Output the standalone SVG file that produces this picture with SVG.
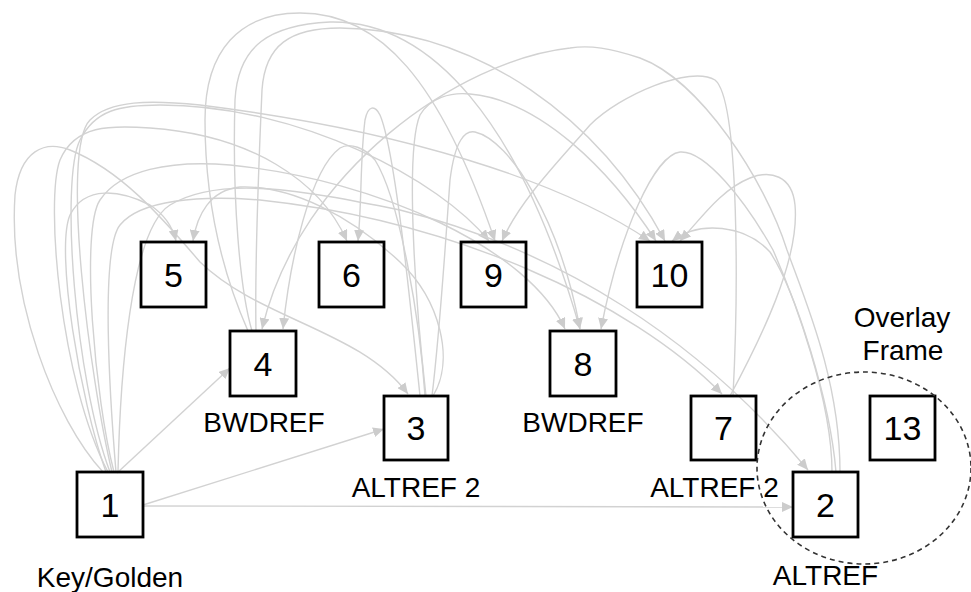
<svg xmlns="http://www.w3.org/2000/svg" width="971" height="592" viewBox="0 0 971 592">
<style>
.e{fill:none;stroke:#d2d2d2;stroke-width:1.4}
.b{fill:none;stroke:#000;stroke-width:2.8}
.n{font-family:"Liberation Sans",Arial,sans-serif;font-size:34px;text-anchor:middle;fill:#000}
.l{font-family:"Liberation Sans",Arial,sans-serif;font-size:28px;text-anchor:middle;fill:#000}
</style>
<defs>
<marker id="ah" markerWidth="11" markerHeight="10" refX="11" refY="5" orient="auto" markerUnits="userSpaceOnUse">
<path d="M0,0 L11,5 L0,10 z" fill="#cccccc"/>
</marker>
</defs>
<rect width="971" height="592" fill="#fff"/>
<g id="connectors">
<path class="e" marker-end="url(#ah)" d="M103,472 C55,420 8,300 15,195 C20,150 45,140 70,150 C120,170 160,215 200,262 C260,320 360,330 408,394"/>
<path class="e" marker-end="url(#ah)" d="M106,472 C80,400 55,250 70,215 C85,185 120,190 150,205 C165,215 173,228 176,241"/>
<path class="e" marker-end="url(#ah)" d="M108,472 C60,380 45,200 60,160 C75,125 110,125 150,128 C250,135 320,180 347,241"/>
<path class="e" marker-end="url(#ah)" d="M110,472 C75,380 60,180 80,140 C95,110 120,105 160,105 C300,105 440,180 489,241"/>
<path class="e" marker-end="url(#ah)" d="M112,472 C90,380 60,150 90,120 C110,100 150,100 200,105 C400,130 560,180 650,241"/>
<path class="e" marker-end="url(#ah)" d="M114,472 C95,400 80,230 100,200 C120,170 170,160 230,165 C380,180 530,250 565,329"/>
<path class="e" marker-end="url(#ah)" d="M116,472 C110,400 100,250 120,225 C140,200 200,195 260,200 C450,220 630,300 722,394"/>
<path class="e" marker-end="url(#ah)" d="M118,472 C120,380 130,230 170,205 C220,175 300,190 400,210 C560,250 700,340 808,470"/>
<path class="e" marker-end="url(#ah)" d="M117,473 L230,368"/>
<path class="e" marker-end="url(#ah)" d="M143,505 L384,429"/>
<path class="e" marker-end="url(#ah)" d="M143,506 L793,507"/>
<path class="e" marker-end="url(#ah)" d="M248,331 C230,290 205,220 205,120 C205,50 240,13 300,13 C380,13 440,80 495,241"/>
<path class="e" marker-end="url(#ah)" d="M252,331 C240,290 232,200 235,100 C238,45 270,25 330,22 C430,20 520,120 580,329"/>
<path class="e" marker-end="url(#ah)" d="M256,331 C255,280 258,180 262,90 C265,45 290,28 340,28 C480,30 600,120 665,241"/>
<path class="e" marker-end="url(#ah)" d="M433,396 C455,360 440,300 400,262 C350,215 290,185 240,187 C210,190 197,215 193,241"/>
<path class="e" marker-end="url(#ah)" d="M420,396 C410,300 395,150 380,115 C375,105 368,105 365,120 C360,160 362,200 358,241"/>
<path class="e" marker-end="url(#ah)" d="M425,396 C420,320 400,200 375,160 C365,148 350,142 340,148 C310,170 290,260 283,329"/>
<path class="e" marker-end="url(#ah)" d="M432,396 C440,330 445,250 450,180 C455,140 465,130 475,132 C510,140 560,220 580,329"/>
<path class="e" marker-end="url(#ah)" d="M426,396 C415,300 405,150 420,115 C430,98 450,92 470,94 C540,100 610,170 656,241"/>
<path class="e" marker-end="url(#ah)" d="M840,472 C840,380 805,300 787,250 C765,180 700,80 640,58 C610,48 590,45 570,48 C460,60 300,170 262,329"/>
<path class="e" marker-end="url(#ah)" d="M832,472 C832,400 795,300 773,250 C745,200 705,150 680,152 C655,155 620,230 601,329"/>
<path class="e" marker-end="url(#ah)" d="M836,472 C830,400 795,290 770,252 C745,225 700,220 672,241"/>
<path class="e" marker-end="url(#ah)" d="M733,396 C738,300 740,100 715,80 C690,65 620,95 590,125 C560,160 520,200 502,241"/>
<path class="e" marker-end="url(#ah)" d="M730,396 C760,340 800,260 795,205 C792,175 770,170 750,178 C720,190 700,220 680,241"/>
</g>
<g id="n1"><rect class="b" x="77" y="472" width="66" height="65"/><text class="n" x="110" y="517">1</text><text class="l" x="110" y="587">Key/Golden</text></g>
<g id="n2"><rect class="b" x="793" y="472" width="65" height="65"/><text class="n" x="825.5" y="517">2</text><text class="l" x="825.5" y="585">ALTREF</text></g>
<g id="n3"><rect class="b" x="384" y="396" width="64" height="64"/><text class="n" x="416" y="440">3</text><text class="l" x="416" y="497">ALTREF 2</text></g>
<g id="n4"><rect class="b" x="230" y="331" width="66" height="65"/><text class="n" x="263" y="376">4</text><text class="l" x="264" y="432">BWDREF</text></g>
<g id="n5"><rect class="b" x="141" y="242" width="65" height="65"/><text class="n" x="173.5" y="287">5</text></g>
<g id="n6"><rect class="b" x="319" y="242" width="65" height="65"/><text class="n" x="351.5" y="287">6</text></g>
<g id="n7"><rect class="b" x="691" y="396" width="65" height="64"/><text class="n" x="723.5" y="440">7</text><text class="l" x="714.5" y="497">ALTREF 2</text></g>
<g id="n8"><rect class="b" x="550" y="331" width="66" height="65"/><text class="n" x="583" y="376">8</text><text class="l" x="583" y="432">BWDREF</text></g>
<g id="n9"><rect class="b" x="461" y="242" width="65" height="65"/><text class="n" x="493.5" y="287">9</text></g>
<g id="n10"><rect class="b" x="637" y="242" width="65" height="65"/><text class="n" x="669.5" y="287">10</text></g>
<g id="n13"><rect class="b" x="870" y="396" width="65" height="64"/><text class="n" x="902.5" y="440">13</text><text class="l" x="902" y="327">Overlay</text><text class="l" x="903" y="360">Frame</text></g>
<g id="overlay"><ellipse cx="864" cy="468" rx="107" ry="96" fill="none" stroke="#333" stroke-width="1.6" stroke-dasharray="5 4"/></g>
</svg>
